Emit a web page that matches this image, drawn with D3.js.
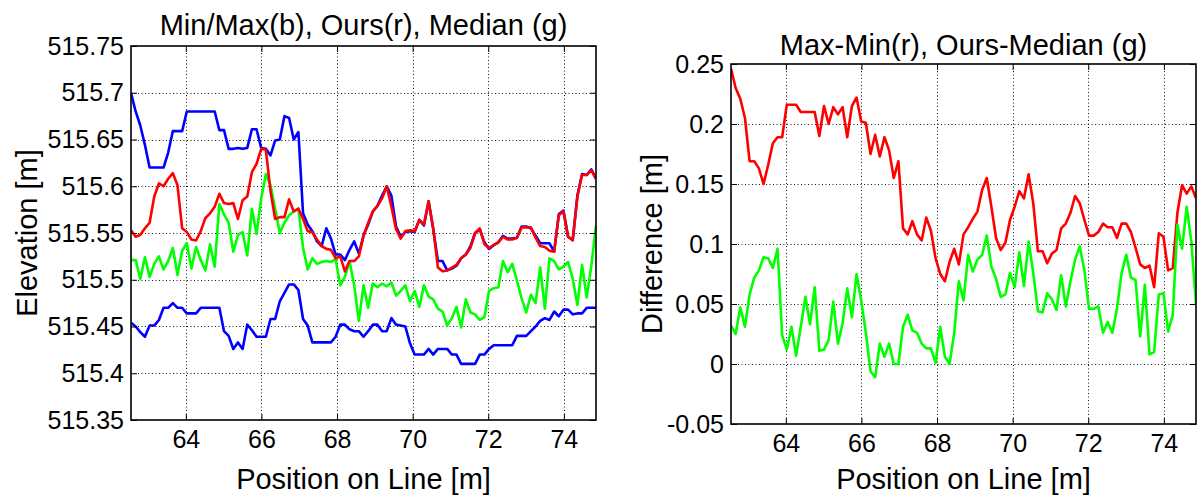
<!DOCTYPE html>
<html>
<head>
<meta charset="utf-8">
<script src="https://cdn.jsdelivr.net/npm/d3@7"></script>
<style>
  body { margin: 0; background: #fff; }
  svg { display: block; font-family: "Liberation Sans", Arial, Helvetica, sans-serif; }
</style>
</head>
<body>
<svg id="chart" width="1199" height="497"></svg>
<script>
// Sample positions along the profile line [m]
const position = [
  62.550, 62.673, 62.796, 62.919, 63.042, 63.165, 63.288, 63.411, 63.534, 63.657,
  63.780, 63.903, 64.026, 64.149, 64.272, 64.395, 64.518, 64.641, 64.764, 64.887,
  65.010, 65.133, 65.256, 65.379, 65.502, 65.625, 65.748, 65.871, 65.994, 66.117,
  66.240, 66.363, 66.486, 66.609, 66.732, 66.855, 66.978, 67.101, 67.224, 67.347,
  67.470, 67.593, 67.716, 67.839, 67.962, 68.085, 68.208, 68.331, 68.454, 68.577,
  68.700, 68.823, 68.946, 69.069, 69.192, 69.315, 69.438, 69.561, 69.684, 69.807,
  69.930, 70.053, 70.176, 70.299, 70.422, 70.545, 70.668, 70.791, 70.914, 71.037,
  71.160, 71.283, 71.406, 71.529, 71.652, 71.775, 71.898, 72.021, 72.144, 72.267,
  72.390, 72.513, 72.636, 72.759, 72.882, 73.005, 73.128, 73.251, 73.374, 73.497,
  73.620, 73.743, 73.866, 73.989, 74.112, 74.235, 74.358, 74.481, 74.604, 74.727,
  74.850
];

// Maximum elevation per sample [m]
const maxElev = [
  515.700, 515.680, 515.665, 515.644, 515.620, 515.620, 515.620, 515.620, 515.636, 515.659,
  515.659, 515.659, 515.680, 515.680, 515.680, 515.680, 515.680, 515.680, 515.680, 515.660,
  515.660, 515.640, 515.640, 515.641, 515.640, 515.641, 515.661, 515.661, 515.641, 515.640,
  515.633, 515.649, 515.650, 515.675, 515.673, 515.650, 515.658, 515.571, 515.559, 515.552,
  515.541, 515.536, 515.555, 515.544, 515.527, 515.527, 515.521, 515.532, 515.541, 515.528,
  515.547, 515.559, 515.573, 515.579, 515.590, 515.600, 515.590, 515.557, 515.546, 515.551,
  515.552, 515.551, 515.564, 515.558, 515.584, 515.554, 515.520, 515.520, 515.510, 515.512,
  515.515, 515.523, 515.527, 515.536, 515.550, 515.554, 515.540, 515.533, 515.537, 515.540,
  515.547, 515.544, 515.544, 515.545, 515.557, 515.557, 515.555, 515.547, 515.539, 515.539,
  515.539, 515.530, 515.570, 515.574, 515.546, 515.543, 515.590, 515.613, 515.612, 515.618,
  515.608
];

// Minimum elevation per sample [m]
const minElev = [
  515.454, 515.450, 515.444, 515.439, 515.451, 515.451, 515.457, 515.470, 515.470, 515.475,
  515.470, 515.470, 515.464, 515.464, 515.464, 515.470, 515.470, 515.470, 515.470, 515.470,
  515.445, 515.440, 515.426, 515.433, 515.426, 515.452, 515.446, 515.439, 515.439, 515.439,
  515.458, 515.458, 515.477, 515.486, 515.495, 515.495, 515.489, 515.458, 515.451, 515.433,
  515.433, 515.433, 515.433, 515.433, 515.439, 515.452, 515.452, 515.447, 515.445, 515.445,
  515.439, 515.445, 515.452, 515.452, 515.445, 515.445, 515.459, 515.452, 515.451, 515.450,
  515.432, 515.420, 515.420, 515.420, 515.426, 515.420, 515.426, 515.426, 515.426, 515.420,
  515.420, 515.410, 515.410, 515.410, 515.410, 515.420, 515.420, 515.426, 515.430, 515.430,
  515.430, 515.430, 515.430, 515.440, 515.440, 515.440, 515.445, 515.450, 515.456, 515.459,
  515.457, 515.466, 515.461, 515.468, 515.468, 515.463, 515.464, 515.464, 515.470, 515.470,
  515.470
];

// Our estimate per sample [m]
const oursElev = [
  515.553, 515.546, 515.548, 515.555, 515.561, 515.589, 515.603, 515.600, 515.608, 515.614,
  515.601, 515.555, 515.551, 515.543, 515.542, 515.552, 515.566, 515.571, 515.578, 515.592,
  515.582, 515.581, 515.582, 515.565, 515.585, 515.589, 515.615, 515.624, 515.640, 515.639,
  515.595, 515.565, 515.567, 515.567, 515.586, 515.573, 515.576, 515.565, 515.552, 515.551,
  515.543, 515.536, 515.533, 515.532, 515.523, 515.525, 515.509, 515.520, 515.520, 515.525,
  515.547, 515.561, 515.573, 515.579, 515.587, 515.600, 515.578, 515.554, 515.544, 515.552,
  515.553, 515.552, 515.564, 515.559, 515.584, 515.555, 515.513, 515.509, 515.510, 515.513,
  515.516, 515.523, 515.527, 515.534, 515.550, 515.555, 515.538, 515.534, 515.537, 515.540,
  515.546, 515.543, 515.543, 515.545, 515.556, 515.556, 515.556, 515.545, 515.536, 515.535,
  515.531, 515.530, 515.569, 515.573, 515.546, 515.542, 515.589, 515.612, 515.612, 515.617,
  515.608
];

// Median elevation per sample [m]
const medianElev = [
  515.521, 515.521, 515.501, 515.524, 515.503, 515.517, 515.525, 515.511, 515.520, 515.534,
  515.505, 515.531, 515.539, 515.512, 515.535, 515.521, 515.510, 515.538, 515.514, 515.581,
  515.570, 515.561, 515.530, 515.548, 515.551, 515.526, 515.576, 515.549, 515.587, 515.613,
  515.601, 515.576, 515.550, 515.561, 515.569, 515.573, 515.576, 515.534, 515.511, 515.523,
  515.517, 515.519, 515.520, 515.519, 515.522, 515.494, 515.503, 515.520, 515.494, 515.456,
  515.494, 515.470, 515.496, 515.492, 515.496, 515.493, 515.497, 515.483, 515.488, 515.494,
  515.477, 515.488, 515.471, 515.494, 515.482, 515.479, 515.469, 515.466, 515.451, 515.459,
  515.471, 515.449, 515.479, 515.465, 515.463, 515.457, 515.460, 515.488, 515.491, 515.492,
  515.520, 515.508, 515.517, 515.499, 515.480, 515.465, 515.484, 515.475, 515.513, 515.469,
  515.523, 515.520, 515.511, 515.514, 515.519, 515.501, 515.473, 515.516, 515.481, 515.515,
  515.558
];

// Axis ticks and their labels
const xTicks = [64, 66, 68, 70, 72, 74];
const xTickLabels = ["64", "66", "68", "70", "72", "74"];
const elevTicks = [515.35, 515.4, 515.45, 515.5, 515.55, 515.6, 515.65, 515.7, 515.75];
const elevTickLabels = ["515.35", "515.4", "515.45", "515.5", "515.55", "515.6", "515.65", "515.7", "515.75"];
const diffTicks = [-0.05, 0, 0.05, 0.1, 0.15, 0.2, 0.25];
const diffTickLabels = ["-0.05", "0", "0.05", "0.1", "0.15", "0.2", "0.25"];

// Differences shown in the right panel
const rangeDiff = maxElev.map((v, i) => v - minElev[i]);
const oursMinusMedian = oursElev.map((v, i) => v - medianElev[i]);

const svg = d3.select("#chart");

function drawPanel(cfg) {
  const { box, yDomain, yTicks, yTickLabels, series, title, titleY, yLabel, yLabelX, id } = cfg;
  const x = d3.scaleLinear().domain([62.55, 74.85]).range([box.left, box.right]);
  const y = d3.scaleLinear().domain(yDomain).range([box.bottom, box.top]);
  const g = svg.append("g");

  // dotted grid
  const grid = g.append("g").attr("stroke", "#000").attr("stroke-width", 1)
    .attr("stroke-dasharray", "1,2.5").attr("opacity", 0.9);
  grid.selectAll("line.vx").data(xTicks).join("line")
    .attr("x1", d => Math.round(x(d)) + 0.5).attr("x2", d => Math.round(x(d)) + 0.5)
    .attr("y1", box.top).attr("y2", box.bottom);
  grid.selectAll("line.hy").data(yTicks.filter(d => d !== yDomain[0] && d !== yDomain[1])).join("line")
    .attr("y1", d => Math.round(y(d)) + 0.5).attr("y2", d => Math.round(y(d)) + 0.5)
    .attr("x1", box.left).attr("x2", box.right);

  // data lines
  g.append("clipPath").attr("id", id).append("rect")
    .attr("x", box.left).attr("y", box.top)
    .attr("width", box.right - box.left).attr("height", box.bottom - box.top);
  const line = d3.line().x((d, i) => x(position[i])).y(d => y(d));
  const lines = g.append("g").attr("clip-path", `url(#${id})`);
  series.forEach(s => {
    lines.append("path").datum(s.values)
      .attr("fill", "none").attr("stroke", s.color).attr("stroke-width", 2.6)
      .attr("stroke-linejoin", "round").attr("d", line);
  });

  // axes with inward ticks
  const fmtX = d => xTickLabels[xTicks.indexOf(d)];
  const fmtY = d => yTickLabels[yTicks.indexOf(d)];
  const axStyle = sel => {
    sel.select(".domain").remove();
    sel.selectAll("line").attr("stroke", "#000").attr("stroke-width", 1);
    sel.selectAll("text").attr("fill", "#000").style("font-size", "25px")
      .style("font-family", '"Liberation Sans", Arial, sans-serif');
  };
  g.append("g").attr("transform", `translate(0,${box.bottom})`)
    .call(d3.axisBottom(x).tickValues(xTicks).tickFormat(fmtX).tickSize(-6).tickPadding(10))
    .call(axStyle);
  g.append("g").attr("transform", `translate(0,${box.top})`)
    .call(d3.axisTop(x).tickValues(xTicks).tickFormat("").tickSize(-6))
    .call(axStyle);
  g.append("g").attr("transform", `translate(${box.left},0)`)
    .call(d3.axisLeft(y).tickValues(yTicks).tickFormat(fmtY).tickSize(-6).tickPadding(7))
    .call(axStyle);
  g.append("g").attr("transform", `translate(${box.right},0)`)
    .call(d3.axisRight(y).tickValues(yTicks).tickFormat("").tickSize(-6))
    .call(axStyle);

  // frame
  g.append("rect").attr("x", box.left).attr("y", box.top)
    .attr("width", box.right - box.left).attr("height", box.bottom - box.top)
    .attr("fill", "none").attr("stroke", "#000").attr("stroke-width", 1.6);

  // titles and labels
  const cx = (box.left + box.right) / 2;
  g.append("text").attr("x", cx).attr("y", titleY).attr("text-anchor", "middle")
    .style("font-size", "29px").text(title);
  g.append("text").attr("x", cx).attr("y", 489).attr("text-anchor", "middle")
    .style("font-size", "29px").text("Position on Line [m]");
  g.append("text")
    .attr("transform", `translate(${yLabelX},${(box.top + box.bottom) / 2}) rotate(-90)`)
    .attr("text-anchor", "middle").style("font-size", "29px").text(yLabel);
}

drawPanel({
  id: "clipLeft",
  box: { left: 131, right: 596, top: 46, bottom: 420 },
  yDomain: [515.35, 515.75], yTicks: elevTicks, yTickLabels: elevTickLabels,
  series: [
    { values: maxElev, color: "#0000ff" },
    { values: minElev, color: "#0000ff" },
    { values: medianElev, color: "#00ff00" },
    { values: oursElev, color: "#ff0000" }
  ],
  title: "Min/Max(b), Ours(r), Median (g)", titleY: 35,
  yLabel: "Elevation [m]", yLabelX: 37
});

drawPanel({
  id: "clipRight",
  box: { left: 731, right: 1196, top: 64, bottom: 424 },
  yDomain: [-0.05, 0.25], yTicks: diffTicks, yTickLabels: diffTickLabels,
  series: [
    { values: rangeDiff, color: "#ff0000" },
    { values: oursMinusMedian, color: "#00ff00" }
  ],
  title: "Max-Min(r), Ours-Median (g)", titleY: 55,
  yLabel: "Difference [m]", yLabelX: 662
});
</script>
</body>
</html>
